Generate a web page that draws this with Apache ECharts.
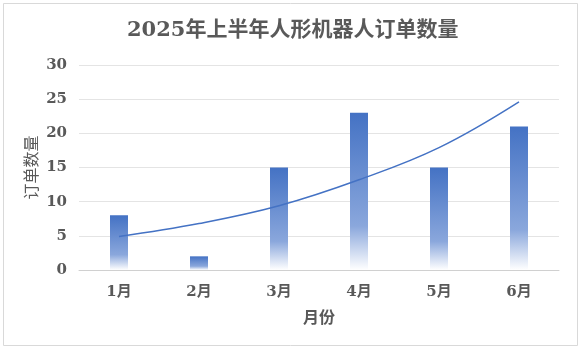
<!DOCTYPE html>
<html>
<head>
<meta charset="utf-8">
<script src="https://cdn.jsdelivr.net/npm/echarts@6/dist/echarts.min.js"></script>
<style>
  html, body { margin: 0; padding: 0; background: #fff; }
  #main { width: 588px; height: 352px; }
</style>
</head>
<body>
<div id="main"></div>
<script>
// 月份与订单数量
var months = ['1月', '2月', '3月', '4月', '5月', '6月'];
var orders = [8, 2, 15, 23, 15, 21];
// 趋势线（从图上读出的各月位置）
var trend = [4.9, 6.8, 9.4, 13.2, 17.9, 24.6];
var yTicks = [0, 5, 10, 15, 20, 25, 30];

var serif = '"DejaVu Serif", "Liberation Serif", "Noto Sans CJK SC", serif';
var chart = echarts.init(document.getElementById('main'));

var option = {
  animation: false,
  backgroundColor: '#fff',
  graphic: [{
    type: 'rect',
    shape: { x: 3.5, y: 3.5, width: 574, height: 342 },
    style: { fill: 'none', stroke: '#d9d9d9', lineWidth: 1 },
    silent: true
  }],
  title: {
    text: '2025年上半年人形机器人订单数量',
    left: 122,
    top: 15,
    textStyle: { fontFamily: serif, fontSize: 21, fontWeight: 'bold', color: '#595959' }
  },
  grid: { left: 79, right: 29, top: 65, bottom: 82 },
  xAxis: {
    type: 'category',
    data: months,
    name: '月份',
    nameLocation: 'middle',
    nameGap: 41,
    nameTextStyle: { fontFamily: serif, fontSize: 16, fontWeight: 'bold', color: '#595959' },
    axisLine: { lineStyle: { color: '#d0d0d0' } },
    axisTick: { show: false },
    axisLabel: { fontFamily: serif, fontSize: 15, fontWeight: 'bold', color: '#595959', margin: 15 }
  },
  yAxis: {
    type: 'value',
    min: yTicks[0],
    max: yTicks[yTicks.length - 1],
    interval: 5,
    name: '订单数量',
    nameLocation: 'middle',
    nameGap: 38,
    nameMoveOverlap: false,
    nameTextStyle: { fontFamily: serif, fontSize: 16, color: '#595959' },
    axisLine: { show: false },
    axisTick: { show: false },
    axisLabel: { fontFamily: serif, fontSize: 15, fontWeight: 'bold', color: '#595959', margin: 12 },
    splitLine: { lineStyle: { color: '#e4e4e4' } }
  },
  series: [
    {
      type: 'bar',
      data: orders,
      barWidth: 18,
      itemStyle: {
        color: new echarts.graphic.LinearGradient(0, 0, 0, 1, [
          { offset: 0, color: '#4472c4' },
          { offset: 0.72, color: '#8aa7dc' },
          { offset: 1, color: '#ffffff' }
        ])
      }
    },
    {
      type: 'line',
      data: trend,
      smooth: 0.4,
      symbol: 'none',
      lineStyle: { color: '#4472c4', width: 1.5 }
    }
  ]
};
chart.setOption(option);
</script>
</body>
</html>
